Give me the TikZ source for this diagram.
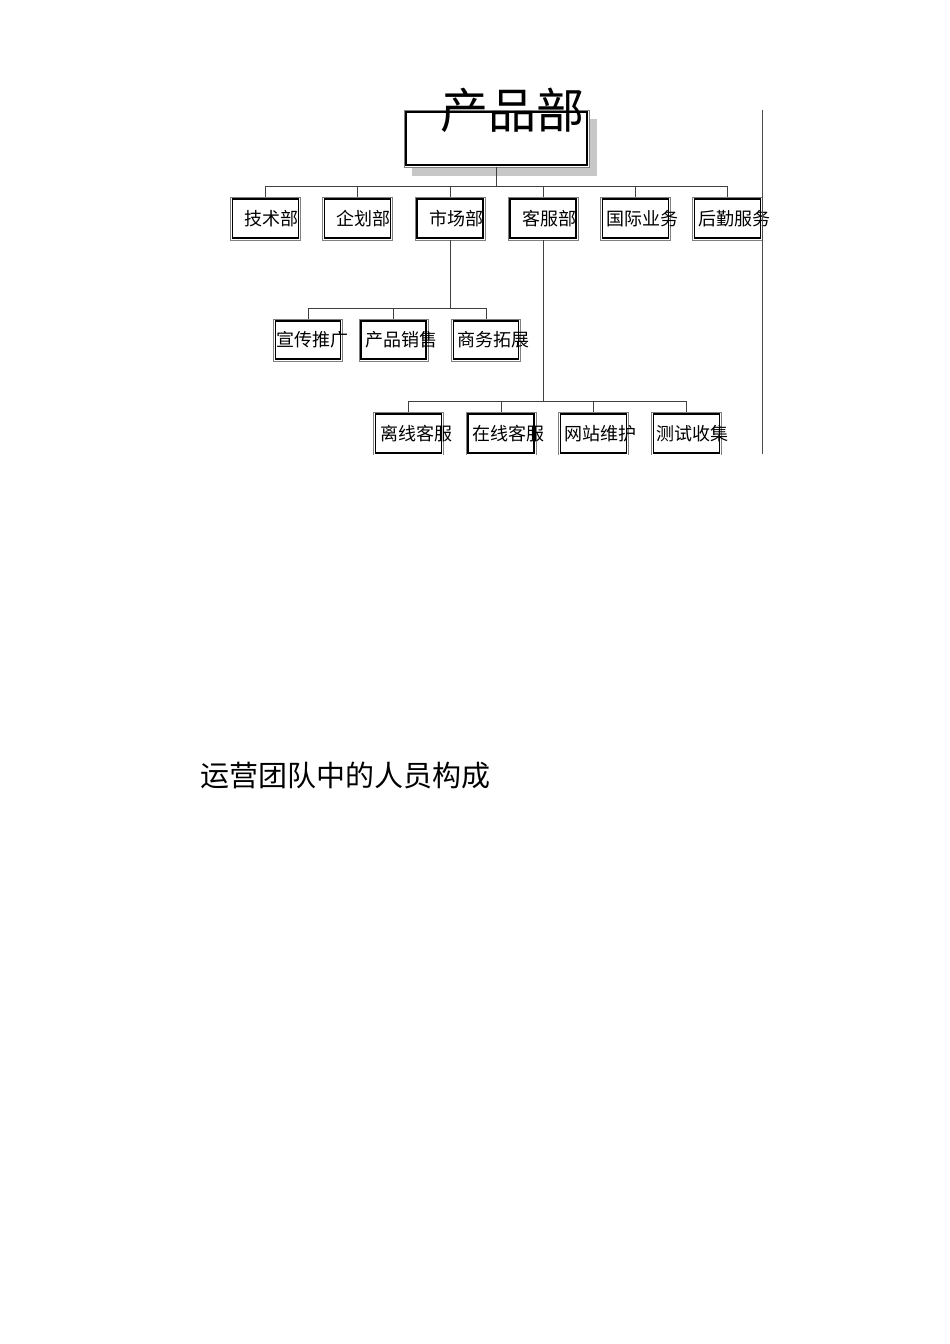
\documentclass[tikz,border=0pt]{standalone}
\usepackage{fontspec}
\newfontfamily\cjk{Noto Sans CJK SC}
\usetikzlibrary{shadows}
\begin{document}
\begin{tikzpicture}[x=1pt,y=-1pt,
  ob/.style={draw=black!50, line width=0.8pt, fill=white, inner sep=0pt,
    minimum width=70pt, minimum height=43pt,
    path picture={\draw[black, line width=1.3pt]
      ([shift={(2pt,2pt)}]path picture bounding box.south west) rectangle
      ([shift={(-2pt,-2pt)}]path picture bounding box.north east);}},
  topbox/.style={ob, minimum width=185pt, minimum height=57pt,
    drop shadow={shadow xshift=8pt, shadow yshift=-9pt, shadow scale=1, fill=black!22, opacity=1}},
  lbl/.style={font=\cjk\fontsize{18}{18}\selectfont, inner sep=0pt},
  bigl/.style={font=\cjk\fontsize{48}{48}\selectfont, inner sep=0pt},
  headl/.style={font=\cjk\fontsize{29}{29}\selectfont, inner sep=0pt},
  conn/.style={draw=black!75, line width=0.8pt},
]
\useasboundingbox (0,0) rectangle (950,1344);
\fill[white] (0,0) rectangle (950,1344);

\begin{scope}
\clip (0,0) rectangle (950,454);
% top box
\node[topbox] (top) at (496.5,138.5) {};
\node[bigl] (toplbl) at (512,110.5) {产品部};

% level 1
\node[ob] (a1) at (265.5,218.5) {};
\node[ob] (a2) at (357.5,218.5) {};
\node[ob] (a3) at (450,218.5) {};
\node[ob] (a4) at (543,218.5) {};
\node[ob] (a5) at (635.5,218.5) {};
\node[ob] (a6) at (727.5,218.5) {};
\node[lbl] (t1) at ([xshift=6pt]a1.center) {技术部};
\node[lbl] (t2) at ([xshift=6pt]a2.center) {企划部};
\node[lbl] (t3) at ([xshift=6pt]a3.center) {市场部};
\node[lbl] (t4) at ([xshift=6pt]a4.center) {客服部};
\node[lbl] (t5) at ([xshift=7pt]a5.center) {国际业务};
\node[lbl] (t6) at ([xshift=7pt]a6.center) {后勤服务};

% level 2
\node[ob, minimum width=69pt, minimum height=42pt] (b1) at (308,340) {};
\node[ob, minimum width=69pt, minimum height=42pt] (b2) at (393.5,340) {};
\node[ob, minimum width=69pt, minimum height=42pt] (b3) at (486,340) {};
\node[lbl] (u1) at ([xshift=4pt]b1.center) {宣传推广};
\node[lbl] (u2) at ([xshift=7.5pt]b2.center) {产品销售};
\node[lbl] (u3) at ([xshift=7.5pt]b3.center) {商务拓展};

% level 3
\node[ob] (c1) at (408.8,433.5) {};
\node[ob] (c2) at (500.9,433.5) {};
\node[ob] (c3) at (593.3,433.5) {};
\node[ob] (c4) at (686.4,433.5) {};
\node[lbl] (v1) at ([xshift=7.5pt]c1.center) {离线客服};
\node[lbl] (v2) at ([xshift=7.5pt]c2.center) {在线客服};
\node[lbl] (v3) at ([xshift=7.5pt]c3.center) {网站维护};
\node[lbl] (v4) at ([xshift=6pt]c4.center) {测试收集};

% connectors
\coordinate (bus1) at (496.5,186);
\coordinate (bus2) at (450,308);
\coordinate (bus3) at (543,401);
\draw[conn] (top.south) -- (bus1);
\foreach \n in {a1,a2,a3,a4,a5,a6} \draw[conn] (bus1) -| (\n.north);
\draw[conn] (a3.south) -- (bus2);
\foreach \n in {b1,b2,b3} \draw[conn] (bus2) -| (\n.north);
\draw[conn] (a4.south) -- (bus3);
\foreach \n in {c1,c2,c3,c4} \draw[conn] (bus3) -| (\n.north);

% right edge line
\coordinate (rt) at (762.3,110);
\coordinate (rb) at (762.3,454);
\draw[draw=black!70, line width=0.8pt] (rt) -- (rb);
\end{scope}

\node[headl] (head) at (345,775.5) {运营团队中的人员构成};
\end{tikzpicture}
\end{document}
